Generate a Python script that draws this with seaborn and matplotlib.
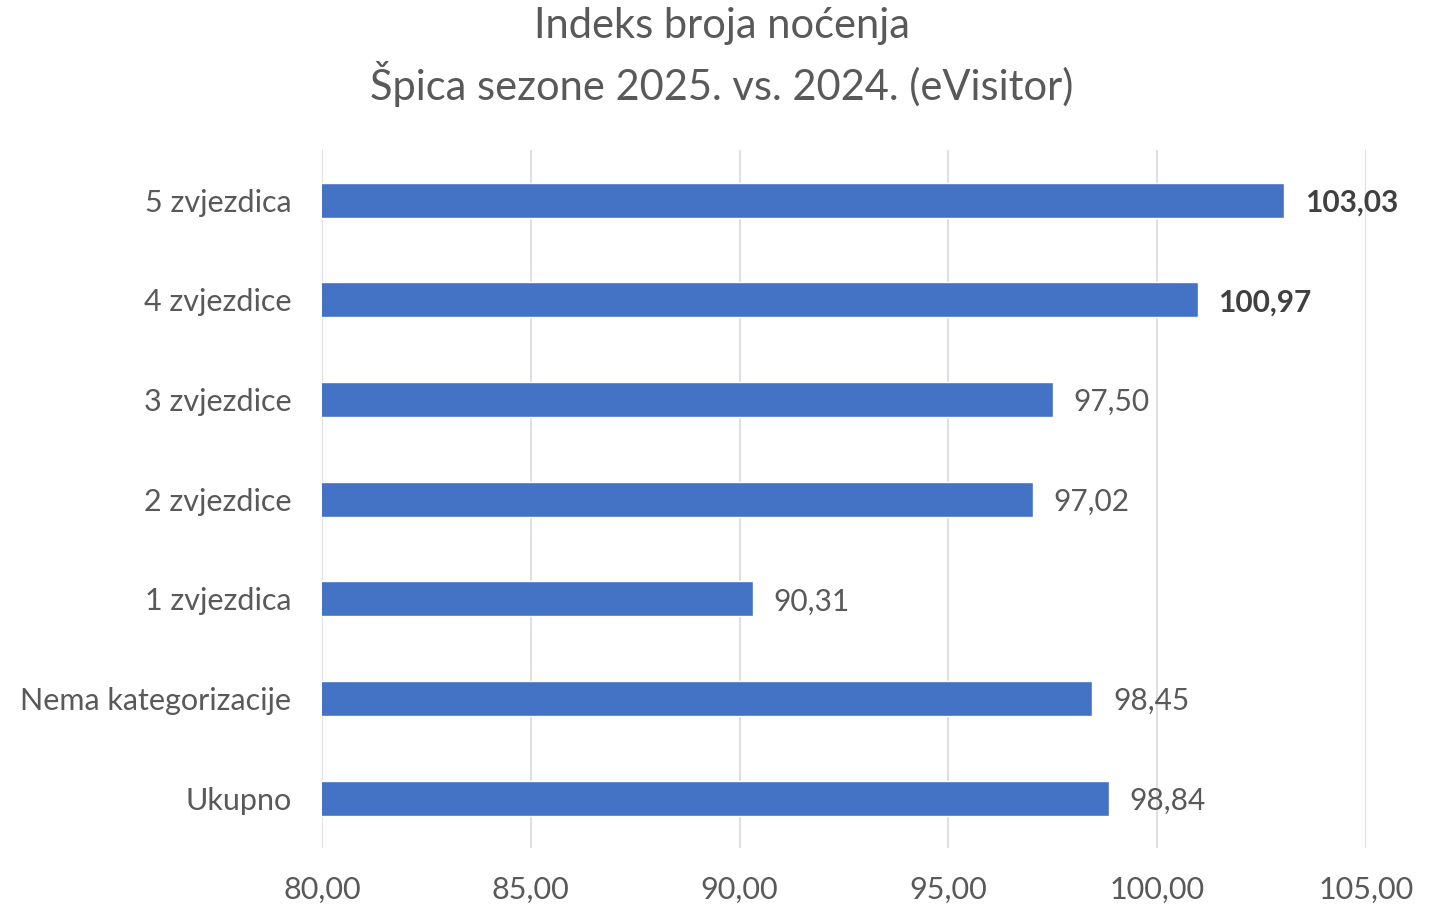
import matplotlib
matplotlib.use("Agg")
import matplotlib.pyplot as plt
import seaborn as sns
import pandas as pd

categories = ["5 zvjezdica", "4 zvjezdice", "3 zvjezdice", "2 zvjezdice",
              "1 zvjezdica", "Nema kategorizacije", "Ukupno"]
values = [103.03, 100.97, 97.50, 97.02, 90.31, 98.45, 98.84]
bold_labels = [True, True, False, False, False, False, False]
x_ticks = [80, 85, 90, 95, 100, 105]

sns.set_theme(style="white")
plt.rcParams["font.family"] = ["Lato", "DejaVu Sans"]

df = pd.DataFrame({"kategorija": categories, "indeks": values})

fig = plt.figure(figsize=(14.38, 9.05), dpi=100)
ax = fig.add_axes([0.2239, 0.063, 0.726, 0.771])

sns.barplot(data=df, y="kategorija", x="indeks", orient="h",
            color="#4472C4", saturation=1, width=0.35, ax=ax, zorder=3)

ax.set_xlim(80, 105)
ax.set_ylim(6.5, -0.5)
ax.set_xticks(x_ticks)
ax.set_xticklabels([f"{t:.2f}".replace(".", ",") for t in x_ticks])
ax.grid(axis="x", color="#D9D9D9", linewidth=1.2, zorder=0)
ax.grid(axis="y", visible=False)
for s in ax.spines.values():
    s.set_visible(False)
ax.tick_params(axis="x", length=0, pad=20, labelsize=22, labelcolor="#595959")
ax.tick_params(axis="y", length=0, pad=22, labelsize=22, labelcolor="#595959")
ax.set_xlabel("")
ax.set_ylabel("")

for i, (v, b) in enumerate(zip(values, bold_labels)):
    ax.text(v + 0.5, i, f"{v:.2f}".replace(".", ","), va="center_baseline",
            ha="left", fontsize=21.5, color="#404040" if b else "#595959",
            fontweight="bold" if b else "normal")

fig.text(0.502, 0.971, "Indeks broja noćenja", ha="center", va="center",
         fontsize=30, color="#595959")
fig.text(0.502, 0.907, "Špica sezone 2025. vs. 2024. (eVisitor)", ha="center",
         va="center", fontsize=30, color="#595959")

fig.savefig("out.png", dpi=100, facecolor="white")
